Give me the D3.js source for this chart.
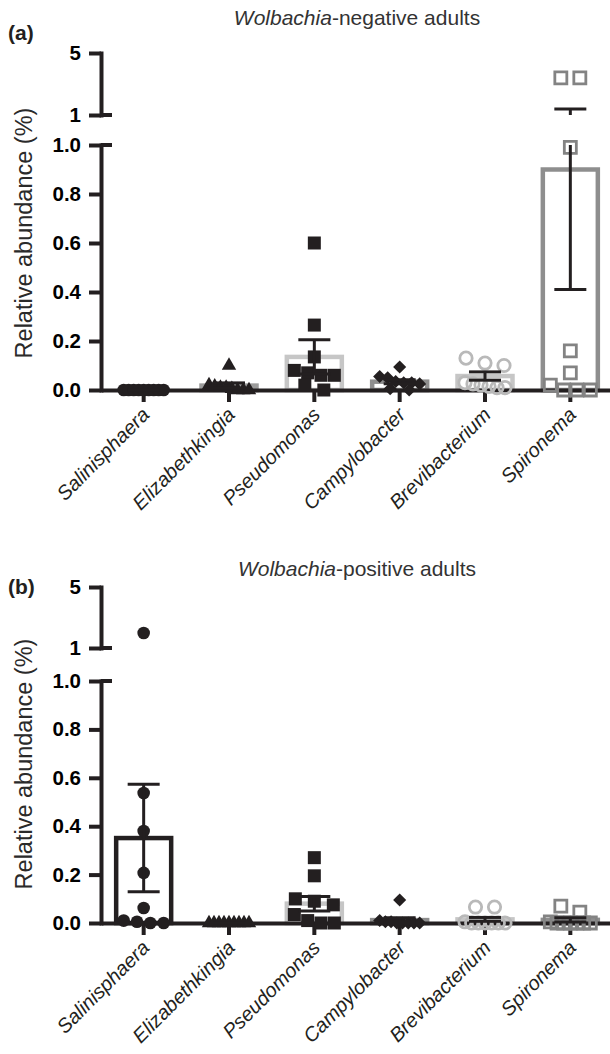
<!DOCTYPE html>
<html>
<head>
<meta charset="utf-8">
<script src="https://cdnjs.cloudflare.com/ajax/libs/d3/7.8.5/d3.min.js"></script>
<style>
  body { margin: 0; background: #fff; }
  svg { display: block; font-family: "Liberation Sans", Arial, sans-serif; }
</style>
</head>
<body>
<svg id="chart" width="610" height="1054"></svg>
<script>
// genera on the x axis
const genera = ["Salinisphaera", "Elizabethkingia", "Pseudomonas", "Campylobacter", "Brevibacterium", "Spironema"];

// y ticks below and above the axis break
const lowerTicks = [0, 0.2, 0.4, 0.6, 0.8, 1.0];
const upperTicks = [1, 5];

// (a) Wolbachia-negative adults
const negMeans = [0, 0.018, 0.135, 0.034, 0.057, 0.9];
const negSems = [0, 0.011, 0.07, 0.008, 0.017, 0.49];
const negPoints = [
  [0, 0, 0, 0, 0, 0, 0, 0, 0],
  [0.10, 0.02, 0.015, 0.01, 0.01, 0.005, 0, 0, 0],
  [0.60, 0.265, 0.135, 0.08, 0.07, 0.06, 0.06, 0.02, 0],
  [0.094, 0.055, 0.05, 0.035, 0.03, 0.03, 0.025, 0.005, 0],
  [0.13, 0.11, 0.10, 0.03, 0.025, 0.02, 0.015, 0.01, 0.01],
  [3.4, 3.4, 0.99, 0.16, 0.07, 0.02, 0, 0, 0]
];

// (b) Wolbachia-positive adults
const posMeans = [0.351, 0, 0.08, 0.012, 0.015, 0.013];
const posSems = [0.222, 0, 0.03, 0.01, 0.008, 0.009];
const posPoints = [
  [1.98, 0.537, 0.38, 0.207, 0.062, 0.01, 0.005, 0, 0],
  [0, 0, 0, 0, 0, 0, 0, 0, 0],
  [0.27, 0.195, 0.10, 0.09, 0.075, 0.035, 0.01, 0, 0],
  [0.095, 0.01, 0.005, 0.005, 0, 0, 0, 0, 0],
  [0.066, 0.066, 0.005, 0, 0, 0, 0, 0, 0],
  [0.07, 0.045, 0.005, 0, 0, 0, 0, 0, 0]
];

// look of each genus: symbol, filled or open, colour, bar colour
const ink = "#231f20";
const looks = [
  { sym: d3.symbolCircle, size: 125, fill: true, color: ink, bar: ink },
  { sym: d3.symbolTriangle, size: 90, fill: true, color: ink, bar: "#9c9c9c" },
  { sym: d3.symbolSquare, size: 169, fill: true, color: ink, bar: "#c6c6c6" },
  { sym: d3.symbolSquare, size: 85, fill: true, color: ink, bar: "#8e8e8e", rot: 45 },
  { sym: d3.symbolCircle, size: 120, fill: false, color: "#b9b9b9", bar: "#c6c6c6" },
  { sym: d3.symbolSquare, size: 144, fill: false, color: "#838383", bar: "#8e8e8e" }
];

const svg = d3.select("#chart");
const axisX = 101;

const x = d3.scaleBand()
  .domain(genera)
  .range([axisX, axisX + 512])
  .padding(0);

// spread points that sit at about the same height side by side
function swarm(values, y, cx) {
  const sorted = values.slice().sort((a, b) => b - a);
  const rows = [];
  sorted.forEach(function(v) {
    const py = y(v);
    const row = rows[rows.length - 1];
    if (row && Math.abs(py - row.y) < 9) row.items.push({ v: v, py: py });
    else rows.push({ y: py, items: [{ v: v, py: py }] });
  });
  const out = [];
  rows.forEach(function(r) {
    const n = r.items.length;
    const step = n > 1 ? Math.min(19, 40 / (n - 1)) : 0;
    r.items.forEach(function(d, i) {
      out.push({ x: cx + (i - (n - 1) / 2) * step, y: d.py });
    });
  });
  return out;
}

function drawPanel(p) {
  const g = svg.append("g");

  const lower = d3.scaleLinear().domain([0, 1]).range([p.y0, p.y1]);
  const upper = d3.scaleLinear().domain([1, 5]).range([p.u1, p.u5]);
  const y = v => v <= 1 ? lower(v) : upper(v);

  // panel letter and title
  g.append("text")
    .attr("x", 8).attr("y", p.labelY)
    .attr("font-size", 21).attr("font-weight", "bold")
    .attr("fill", ink)
    .text(p.letter);

  const title = g.append("text")
    .attr("x", 357).attr("y", p.titleY)
    .attr("text-anchor", "middle")
    .attr("font-size", 21).attr("fill", "#333");
  title.append("tspan").attr("font-style", "italic").text("Wolbachia");
  title.append("tspan").text(p.title);

  // y axis title
  g.append("text")
    .attr("transform", "translate(32," + p.ytitleY + ") rotate(-90)")
    .attr("text-anchor", "middle")
    .attr("font-size", 23.5).attr("fill", "#2a2a2a")
    .text("Relative abundance (%)");

  // bars (mean)
  g.selectAll(".bar")
    .data(genera)
    .enter()
    .append("rect")
    .attr("x", d => x(d) + x.bandwidth() / 2 - 27.5)
    .attr("width", 55)
    .attr("y", (d, i) => y(p.means[i]))
    .attr("height", (d, i) => p.y0 - y(p.means[i]))
    .attr("fill", "none")
    .attr("stroke", (d, i) => looks[i].bar)
    .attr("stroke-width", 4.5);

  // y axis, two pieces around the break
  const yAxisLow = g.append("g")
    .attr("transform", "translate(" + axisX + ",0)")
    .call(d3.axisLeft(lower).tickValues(lowerTicks).tickFormat(d3.format(".1f"))
      .tickSize(12).tickSizeOuter(0).tickPadding(8));
  const yAxisUp = g.append("g")
    .attr("transform", "translate(" + axisX + ",0)")
    .call(d3.axisLeft(upper).tickValues(upperTicks).tickFormat(d3.format("d"))
      .tickSize(12).tickSizeOuter(0).tickPadding(8));

  // break marks reach a little right of the axis
  [p.y1, p.u1].forEach(function(by) {
    g.append("line")
      .attr("x1", axisX).attr("x2", axisX + 11)
      .attr("y1", by).attr("y2", by)
      .attr("stroke", ink).attr("stroke-width", 4);
  });

  // x axis
  const xAxis = g.append("g")
    .attr("transform", "translate(0," + p.y0 + ")")
    .call(d3.axisBottom(x).tickSize(12).tickSizeOuter(0).tickPadding(0));

  xAxis.selectAll("text")
    .attr("x", 0).attr("y", 0).attr("dy", 0)
    .attr("transform", "translate(7,26) rotate(-45)")
    .attr("text-anchor", "end")
    .attr("font-style", "italic")
    .attr("font-size", 20)
    .attr("fill", ink);

  [yAxisLow, yAxisUp].forEach(function(a) {
    a.selectAll("text").attr("font-size", 20.5).attr("font-weight", "bold").attr("fill", "#000");
  });
  [yAxisLow, yAxisUp, xAxis].forEach(function(a) {
    a.select(".domain").attr("stroke", ink).attr("stroke-width", 4).attr("stroke-linecap", "square");
    a.selectAll(".tick line").attr("stroke", ink).attr("stroke-width", 4);
  });
  xAxis.select(".domain").attr("stroke-linecap", "butt");

  // individual samples
  genera.forEach(function(gen, i) {
    const look = looks[i];
    const cx = x(gen) + x.bandwidth() / 2;
    const pts = swarm(p.points[i], y, cx);
    g.selectAll(null)
      .data(pts)
      .enter()
      .append("path")
      .attr("d", d3.symbol(look.sym, look.size))
      .attr("transform", d => "translate(" + d.x + "," + d.y + ")" + (look.rot ? " rotate(" + look.rot + ")" : ""))
      .attr("fill", look.fill ? look.color : "none")
      .attr("stroke", look.fill ? "none" : look.color)
      .attr("stroke-width", look.fill ? 0 : 2.8);
  });

  // error bars (mean +/- SEM), cut at the axis break
  genera.forEach(function(gen, i) {
    const cx = x(gen) + x.bandwidth() / 2;
    const lo = Math.max(0, p.means[i] - p.sems[i]);
    const hi = p.means[i] + p.sems[i];
    const pieces = hi <= 1 ? [[y(lo), y(hi)]] : [[lower(lo), lower(1)], [upper(1), upper(hi)]];
    pieces.forEach(function(s) {
      g.append("line")
        .attr("x1", cx).attr("x2", cx)
        .attr("y1", s[0]).attr("y2", s[1])
        .attr("stroke", ink).attr("stroke-width", 3);
    });
    [y(lo), y(hi)].forEach(function(cy) {
      g.append("line")
        .attr("x1", cx - 16).attr("x2", cx + 16)
        .attr("y1", cy).attr("y2", cy)
        .attr("stroke", ink).attr("stroke-width", 3);
    });
  });
}

drawPanel({
  letter: "(a)", labelY: 40, title: "-negative adults", titleY: 25, ytitleY: 233,
  y0: 390, y1: 145, u1: 115, u5: 53,
  means: negMeans, sems: negSems, points: negPoints
});

drawPanel({
  letter: "(b)", labelY: 594, title: "-positive adults", titleY: 576, ytitleY: 764,
  y0: 923, y1: 681, u1: 648, u5: 587,
  means: posMeans, sems: posSems, points: posPoints
});
</script>
</body>
</html>
